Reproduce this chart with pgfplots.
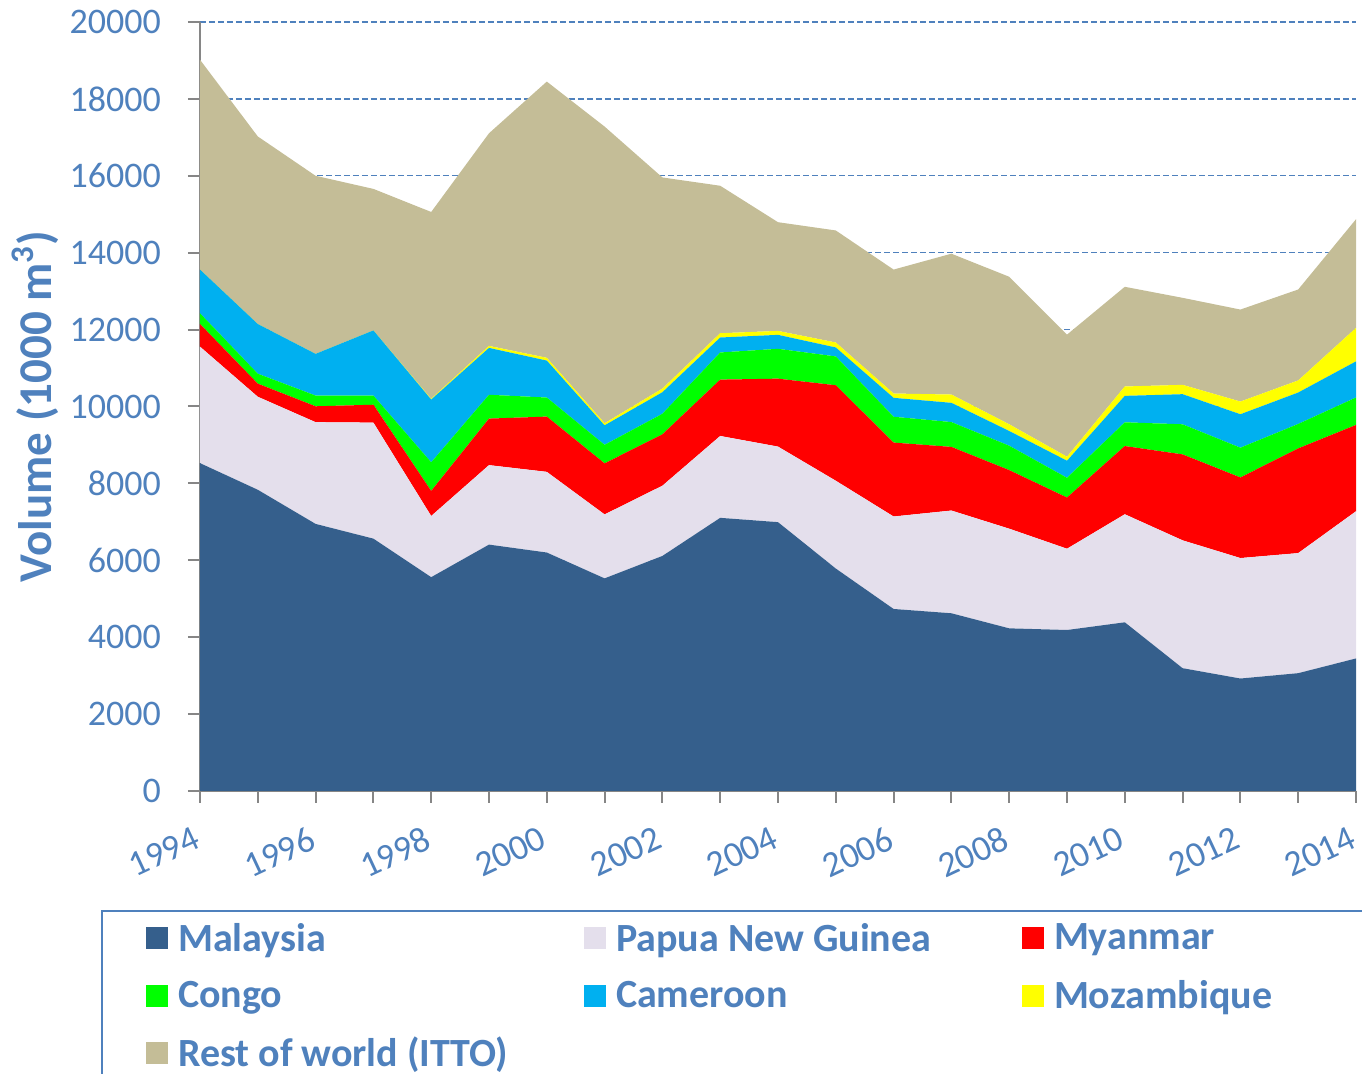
\documentclass[border=0pt]{standalone}
\usepackage{fontspec}
\setmainfont{Carlito}
\usepackage{pgfplots}
\pgfplotsset{compat=1.18}
\usepackage{pgfplotstable}

\definecolor{txt}{HTML}{4F81BD}
\definecolor{axgray}{HTML}{868686}
\definecolor{cMal}{HTML}{355F8C}
\definecolor{cPng}{HTML}{E4DFEC}
\definecolor{cMya}{HTML}{FF0000}
\definecolor{cCon}{HTML}{00FF00}
\definecolor{cCam}{HTML}{00B0F0}
\definecolor{cMoz}{HTML}{FFFF00}
\definecolor{cRest}{HTML}{C4BD97}

% volume, 1000 m3
\pgfplotstableread{
Year Mal  Png  Mya  Con Cam  Moz Rest
1994 8527 3029 589  279 1137 0   5457
1995 7834 2419 341  259 1292 0   4878
1996 6946 2646 413  279 1085 0   4631
1997 6563 3018 465  238 1695 0   3680
1998 5561 1591 652  744 1633 20  4858
1999 6408 2067 1210 620 1219 52  5530
2000 6202 2098 1437 496 961  72  7184
2001 5530 1663 1328 482 507  54  7716
2002 6113 1827 1336 535 560  95  5491
2003 7104 2129 1466 706 389  111 3836
2004 6992 1965 1767 776 363  103 2827
2005 5785 2284 2483 750 233  129 2914
2006 4734 2405 1922 672 492  112 3224
2007 4622 2672 1655 646 500  216 3663
2008 4230 2592 1523 635 383  174 3837
2009 4187 2114 1331 513 444  104 3176
2010 4387 2810 1774 618 687  244 2593
2011 3194 3325 2235 783 783  243 2263
2012 2925 3133 2096 774 870  330 2393
2013 3064 3123 2723 636 817  314 2366
2014 3447 3828 2245 713 940  870 2827
}\data

\begin{document}
\begin{tikzpicture}
\begin{axis}[
  at={(0,0)}, anchor=south west,
  scale only axis, width=578pt, height=384.5pt,
  xmin=1994, xmax=2014, ymin=0, ymax=20000,
  stack plots=y,
  axis x line*=bottom, axis y line*=left,
  axis line style={axgray, line width=1pt},
  xtick={1994,1996,...,2014},
  minor xtick={1995,1997,...,2013},
  ytick={0,2000,...,20000},
  scaled y ticks=false,
  tick align=outside,
  major tick length=6pt, minor tick length=6pt,
  tick style={axgray, line width=1pt},
  ymajorgrids,
  major grid style={txt, line width=0.7pt, dash pattern=on 3pt off 1.5pt},
  /pgf/number format/1000 sep={},
  /pgf/number format/assume math mode=true,
  tick label style={font=\fontsize{18}{20}\selectfont, text=txt},
  yticklabel style={xshift=-10pt},
  xticklabel style={rotate=25, anchor=north east, yshift=-5pt, xshift=-5pt},
  ylabel={Volume (1000 m\textsuperscript{3})},
  ylabel style={font=\fontsize{23.5}{26}\selectfont\bfseries, text=txt,
    at={(axis description cs:-0.1427,0.5)}, anchor=center},
  legend columns=3,
  legend cell align=left,
  legend style={at={(axis description cs:-0.0856,-0.1547)}, anchor=north west,
    draw=txt, line width=1pt, text=txt,
    font=\fontsize{20}{24}\selectfont\bfseries,
    inner xsep=22pt, inner ysep=4pt, row sep=9pt,
    /tikz/every odd column/.append style={column sep=3pt}},
  legend image code/.code={\fill[#1] (0pt,-5.5pt) rectangle (11pt,5.5pt);},
]
\addplot[fill=cMal, draw=none] table[x=Year, y=Mal] {\data} \closedcycle;
\addplot[fill=cPng, draw=none] table[x=Year, y=Png] {\data} \closedcycle;
\addplot[fill=cMya, draw=none] table[x=Year, y=Mya] {\data} \closedcycle;
\addplot[fill=cCon, draw=none] table[x=Year, y=Con] {\data} \closedcycle;
\addplot[fill=cCam, draw=none] table[x=Year, y=Cam] {\data} \closedcycle;
\addplot[fill=cMoz, draw=none] table[x=Year, y=Moz] {\data} \closedcycle;
\addplot[fill=cRest, draw=none] table[x=Year, y=Rest] {\data} \closedcycle;
\legend{\makebox[201pt][l]{Malaysia}, \makebox[201pt][l]{Papua New Guinea}, \makebox[201pt][l]{Myanmar},
  Congo, Cameroon, Mozambique, Rest of world (ITTO)}
\draw[axgray, line width=1pt] (rel axis cs:0,0) -- (rel axis cs:0,1);
\draw[axgray, line width=1pt] (rel axis cs:0,0) -- (rel axis cs:1,0);
\end{axis}
\pgfresetboundingbox
\path[use as bounding box] (-100pt,-141.5pt) rectangle (581pt,395.5pt);
\end{tikzpicture}
\end{document}
